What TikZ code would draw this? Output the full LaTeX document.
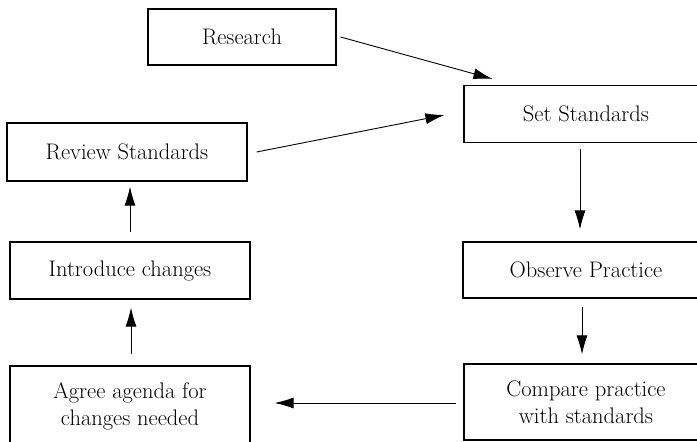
\documentclass[tikz,border=0pt]{standalone}
\usepackage{fontspec}
\usetikzlibrary{arrows.meta,calc}
\begin{document}
\begin{tikzpicture}[x=1pt,y=-1pt,
  box/.style={draw,line width=1.2pt,inner sep=0pt,align=center,font=\fontsize{22.5}{27}\selectfont},
  conn/.style={line width=0.9pt,-{Latex[length=19pt,width=11pt]}}]
\clip (0,0) rectangle (697,442);
\node[box,minimum width=188pt,minimum height=56pt] (research) at (242,37) {Research};
\node[box,minimum width=244pt,minimum height=57pt] (set) at (586,114) {Set Standards};
\node[box,minimum width=240pt,minimum height=58pt] (review) at (127,152) {Review Standards};
\node[box,minimum width=240pt,minimum height=57pt] (intro) at (130,270.5) {Introduce changes};
\node[box,minimum width=246pt,minimum height=56pt] (observe) at (586,270) {Observe Practice};
\node[box,minimum width=240pt,minimum height=80pt] (agree) at (130,406) {Agree agenda for\\changes needed};
\node[box,minimum width=244pt,minimum height=76pt] (compare) at (586,402) {Compare practice\\with standards};
\draw[conn] ($(research.east)+(4,0)$) -- ($(set.north west)+(29,-6)$);
\draw[conn] ($(review.east)+(9,0)$) -- ($(set.west)+(-19,1)$);
\draw[conn] ($(set.south)+(-6,6)$) -- ($(observe.north)+(-6,-12)$);
\draw[conn] ($(observe.south)+(-4,8)$) -- ($(compare.north)+(-4,-9)$);
\draw[conn] ($(compare.west)+(-7,1)$) -- ($(agree.east)+(24,-3)$);
\draw[conn] ($(agree.north)+(1,-11)$) -- ($(intro.south)+(1,8)$);
\draw[conn] ($(intro.north)+(0,-9)$) -- ($(review.south)+(3,5)$);
\end{tikzpicture}
\end{document}
